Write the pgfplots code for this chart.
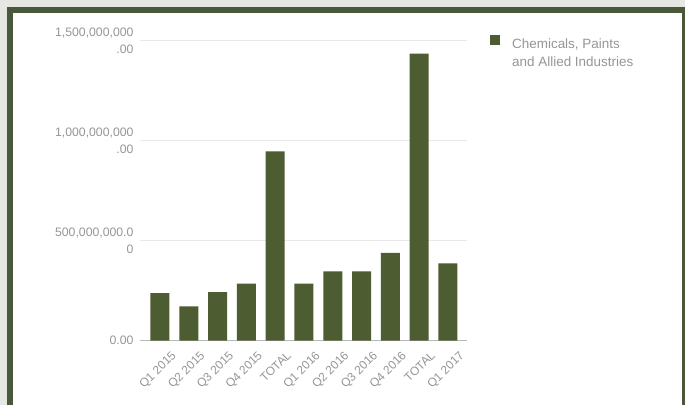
\documentclass[border=0pt]{standalone}
\usepackage{fontspec}
\setmainfont{Liberation Sans}
\usepackage{pgfplots}
\pgfplotsset{compat=1.18}
\definecolor{bargreen}{RGB}{78,92,50}
\definecolor{framegreen}{RGB}{74,88,58}
\definecolor{bggrey}{RGB}{230,230,227}
\definecolor{labgrey}{RGB}{150,150,150}
\definecolor{gridgrey}{RGB}{232,232,232}
\begin{document}
\begin{tikzpicture}
\fill[bggrey] (0,0) rectangle (685bp,405bp);
\fill[framegreen] (7bp,0) rectangle (685bp,398bp);
\fill[white] (13bp,0) rectangle (682bp,392bp);
\path[use as bounding box] (0,0) rectangle (685bp,405bp);
\begin{axis}[
  at={(140bp,64.3bp)}, anchor=south west,
  scale only axis, width=327bp, height=300bp,
  xmin=-0.694, xmax=10.66, ymin=0, ymax=1.5e9,
  ybar, bar width=19bp, bar shift=0pt,
  axis line style={draw=none},
  major tick length=0pt,
  scaled y ticks=false,
  /pgf/number format/assume math mode=true,
  ytick={0,5e8,1e9,1.5e9},
  yticklabels={0.00,{500,000,000.0\\0},{1,000,000,000\\.00},{1,500,000,000\\.00}},
  yticklabel style={align=right, font=\fontsize{12.3}{16.5}\selectfont, text=labgrey, xshift=-3bp},
  ymajorgrids,
  grid style={gridgrey, line width=0.8bp},
  extra y ticks={0},
  extra y tick labels={},
  extra y tick style={grid style={draw=gray!55, line width=0.8bp}},
  xtick={0,...,10},
  xticklabels={Q1 2015,Q2 2015,Q3 2015,Q4 2015,TOTAL,Q1 2016,Q2 2016,Q3 2016,Q4 2016,TOTAL,Q1 2017},
  xticklabel style={rotate=45, anchor=north east, font=\fontsize{12}{14}\selectfont, text=labgrey, xshift=4bp, yshift=-11bp},
  legend style={at={(rel axis cs:1,1)}, anchor=north west, draw=none, fill=none,
    xshift=20bp, yshift=8bp, font=\fontsize{13.5}{18.5}\selectfont, text=labgrey},
  legend cell align=left,
  legend image code/.code={\fill[bargreen] (0bp,-1bp) rectangle (10bp,9bp);},
]
\addplot[fill=bargreen, draw=none] coordinates {
  (0,238e6) (1,172e6) (2,243e6) (3,285e6) (4,947e6)
  (5,285e6) (6,346e6) (7,346e6) (8,439e6) (9,1435e6) (10,387e6)
};
\addlegendentry{\parbox[t]{170bp}{\raggedright\hspace*{10bp}Chemicals, Paints\\\hspace*{10bp}and Allied Industries}}
\end{axis}
\end{tikzpicture}
\end{document}
